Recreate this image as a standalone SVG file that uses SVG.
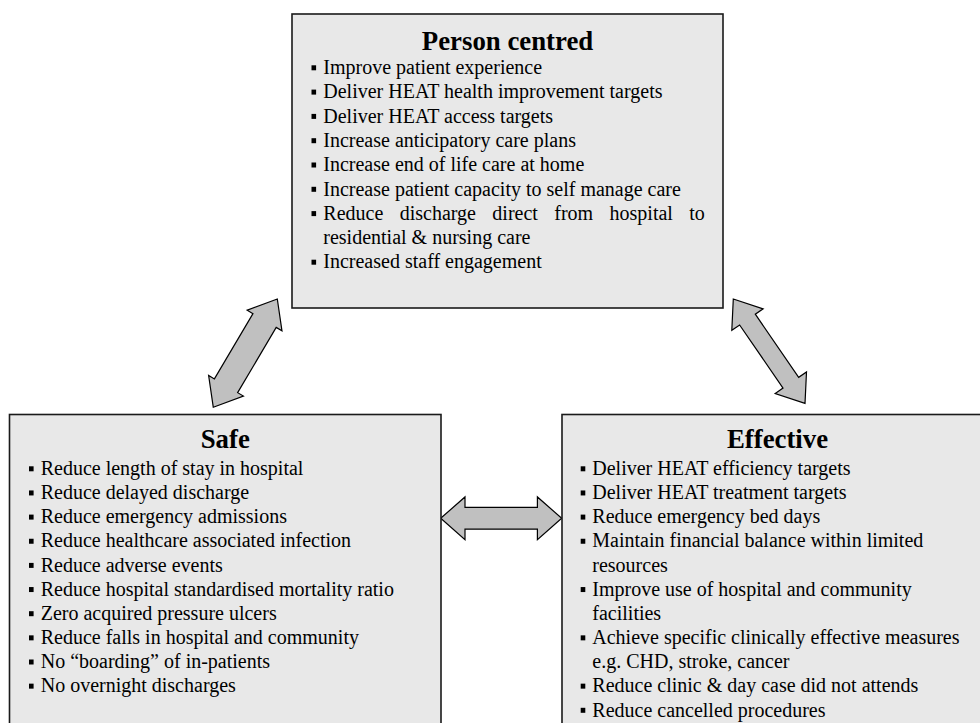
<svg xmlns="http://www.w3.org/2000/svg" xmlns:xlink="http://www.w3.org/1999/xlink" width="980" height="723" viewBox="0 0 980 723">
<defs>
<style>
.box{fill:#e8e8e8;stroke:#1a1a1a;stroke-width:1.6}
.arrow{fill:#c0c0c0;stroke:#000;stroke-width:1.2;stroke-linejoin:miter}
.title{font-family:"Liberation Serif","Times New Roman",serif;font-size:26.8px;font-weight:bold;fill:#000;text-anchor:middle}
.item{font-family:"Liberation Serif","Times New Roman",serif;font-size:20px;fill:#000}
.bul{fill:#000}
</style>
<rect id="b" class="bul" x="0" y="0" width="4.6" height="5"/>
</defs>
<rect width="980" height="723" fill="#fff"/>

<g id="connectors">
<path class="arrow" transform="translate(245.3,353.15) rotate(-59.42)" d="M -62.9,0 L -37.9,-20.2 L -37.9,-13.5 L 37.9,-13.5 L 37.9,-20.2 L 62.9,0 L 37.9,20.2 L 37.9,13.5 L -37.9,13.5 L -37.9,20.2 Z"/>
<path class="arrow" transform="translate(769.15,351.15) rotate(55.5)" d="M -63.3,0 L -38.3,-19 L -38.3,-9.5 L 38.3,-9.5 L 38.3,-19 L 63.3,0 L 38.3,19 L 38.3,9.5 L -38.3,9.5 L -38.3,19 Z"/>
<path class="arrow" transform="translate(501.2,518.3)" d="M -60.5,0 L -36.2,-21.35 L -36.2,-10.85 L 36.2,-10.85 L 36.2,-21.35 L 60.5,0 L 36.2,21.35 L 36.2,10.85 L -36.2,10.85 L -36.2,21.35 Z"/>
</g>

<g id="person-centred">
<rect class="box" x="292" y="14" width="431" height="294"/>
<text class="title" x="507.5" y="50">Person centred</text>
<use xlink:href="#b" x="311.5" y="65.3"/>
<use xlink:href="#b" x="311.5" y="89.6"/>
<use xlink:href="#b" x="311.5" y="113.9"/>
<use xlink:href="#b" x="311.5" y="138.2"/>
<use xlink:href="#b" x="311.5" y="162.5"/>
<use xlink:href="#b" x="311.5" y="186.8"/>
<use xlink:href="#b" x="311.5" y="211.1"/>
<use xlink:href="#b" x="311.5" y="259.7"/>
<text class="item" x="323.3" y="74">Improve patient experience</text>
<text class="item" x="323.3" y="98.3">Deliver HEAT health improvement targets</text>
<text class="item" x="323.3" y="122.6">Deliver HEAT access targets</text>
<text class="item" x="323.3" y="146.9">Increase anticipatory care plans</text>
<text class="item" x="323.3" y="171.2">Increase end of life care at home</text>
<text class="item" x="323.3" y="195.5">Increase patient capacity to self manage care</text>
<text class="item" x="323.3" y="219.8" word-spacing="11.4">Reduce discharge direct from hospital to</text>
<text class="item" x="323.3" y="244.1">residential &amp; nursing care</text>
<text class="item" x="323.3" y="268.4">Increased staff engagement</text>
</g>

<g id="safe">
<rect class="box" x="9.5" y="414.5" width="431.5" height="330"/>
<text class="title" x="225.25" y="448.3">Safe</text>
<use xlink:href="#b" x="29" y="466.3"/>
<use xlink:href="#b" x="29" y="490.45"/>
<use xlink:href="#b" x="29" y="514.6"/>
<use xlink:href="#b" x="29" y="538.75"/>
<use xlink:href="#b" x="29" y="562.9"/>
<use xlink:href="#b" x="29" y="587.05"/>
<use xlink:href="#b" x="29" y="611.2"/>
<use xlink:href="#b" x="29" y="635.35"/>
<use xlink:href="#b" x="29" y="659.5"/>
<use xlink:href="#b" x="29" y="683.65"/>
<text class="item" x="40.7" y="475">Reduce length of stay in hospital</text>
<text class="item" x="40.7" y="499.15">Reduce delayed discharge</text>
<text class="item" x="40.7" y="523.3">Reduce emergency admissions</text>
<text class="item" x="40.7" y="547.45">Reduce healthcare associated infection</text>
<text class="item" x="40.7" y="571.6">Reduce adverse events</text>
<text class="item" x="40.7" y="595.75">Reduce hospital standardised mortality ratio</text>
<text class="item" x="40.7" y="619.9">Zero acquired pressure ulcers</text>
<text class="item" x="40.7" y="644.05">Reduce falls in hospital and community</text>
<text class="item" x="40.7" y="668.2">No “boarding” of in-patients</text>
<text class="item" x="40.7" y="692.35">No overnight discharges</text>
</g>

<g id="effective">
<rect class="box" x="562" y="414.5" width="431" height="330"/>
<text class="title" x="777.5" y="448.3">Effective</text>
<use xlink:href="#b" x="580.7" y="466.3"/>
<use xlink:href="#b" x="580.7" y="490.45"/>
<use xlink:href="#b" x="580.7" y="514.6"/>
<use xlink:href="#b" x="580.7" y="538.75"/>
<use xlink:href="#b" x="580.7" y="587.05"/>
<use xlink:href="#b" x="580.7" y="635.35"/>
<use xlink:href="#b" x="580.7" y="683.65"/>
<use xlink:href="#b" x="580.7" y="707.8"/>
<text class="item" x="592.3" y="475">Deliver HEAT efficiency targets</text>
<text class="item" x="592.3" y="499.15">Deliver HEAT treatment targets</text>
<text class="item" x="592.3" y="523.3">Reduce emergency bed days</text>
<text class="item" x="592.3" y="547.45">Maintain financial balance within limited</text>
<text class="item" x="592.3" y="571.6">resources</text>
<text class="item" x="592.3" y="595.75">Improve use of hospital and community</text>
<text class="item" x="592.3" y="619.9">facilities</text>
<text class="item" x="592.3" y="644.05">Achieve specific clinically effective measures</text>
<text class="item" x="592.3" y="668.2">e.g. CHD, stroke, cancer</text>
<text class="item" x="592.3" y="692.35">Reduce clinic &amp; day case did not attends</text>
<text class="item" x="592.3" y="716.5">Reduce cancelled procedures</text>
</g>
</svg>
